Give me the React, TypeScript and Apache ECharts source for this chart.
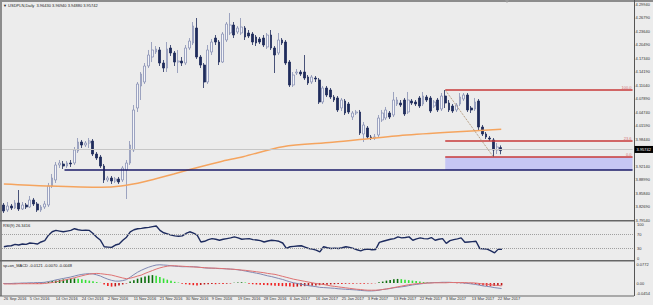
import React, { useEffect, useRef } from "react";
import * as echarts from "echarts";

// ---------- data ----------
const xLabels = [
  "26 Sep 2016", "5 Oct 2016", "14 Oct 2016", "24 Oct 2016", "2 Nov 2016",
  "11 Nov 2016", "21 Nov 2016", "30 Nov 2016", "9 Dec 2016", "19 Dec 2016",
  "28 Dec 2016", "6 Jan 2017", "16 Jan 2017", "25 Jan 2017", "3 Feb 2017",
  "13 Feb 2017", "22 Feb 2017", "3 Mar 2017", "13 Mar 2017", "22 Mar 2017",
];

// [open, close, low, high]
const candles: number[][] = [
  [3.8304, 3.8164, 3.8118, 3.8351], [3.8188, 3.8281, 3.8141, 3.8374], [3.8281, 3.8234, 3.8188, 3.8328], [3.8234, 3.8351, 3.8211, 3.8421], [3.8351, 3.8211, 3.8164, 3.8654],
  [3.8211, 3.8304, 3.8188, 3.8374], [3.8304, 3.8258, 3.8211, 3.8351], [3.8258, 3.8421, 3.8234, 3.8514], [3.8421, 3.8328, 3.8281, 3.8468], [3.8328, 3.8188, 3.8141, 3.8374],
  [3.8188, 3.8258, 3.8141, 3.8304], [3.8258, 3.8328, 3.8211, 3.8398], [3.8304, 3.8748, 3.8258, 3.8818], [3.8748, 3.8934, 3.8701, 3.9028], [3.8888, 3.9238, 3.8818, 3.9307],
  [3.9238, 3.9284, 3.9168, 3.9354], [3.9261, 3.9214, 3.9144, 3.9331], [3.9214, 3.9284, 3.9168, 3.9331], [3.9284, 3.9261, 3.9191, 3.9354], [3.9284, 3.9588, 3.9238, 3.9657],
  [3.9564, 3.9774, 3.9517, 3.9867], [3.9774, 3.9704, 3.9634, 3.9821], [3.9704, 3.9751, 3.9657, 3.9797], [3.9751, 3.9797, 3.9634, 3.9867], [3.9797, 3.9494, 3.9447, 3.9844],
  [3.9494, 3.9401, 3.9354, 3.9541], [3.9424, 3.9214, 3.9168, 3.9471], [3.9214, 3.8888, 3.8818, 3.9261], [3.8888, 3.8934, 3.8841, 3.8981], [3.8934, 3.8864, 3.8794, 3.8981],
  [3.8864, 3.8911, 3.8818, 3.8958], [3.8911, 3.8841, 3.8794, 3.8958], [3.8888, 3.9168, 3.8841, 3.9214], [3.9121, 3.9284, 3.8444, 3.9354], [3.9284, 3.9704, 3.9238, 3.9797],
  [3.9588, 4.0521, 3.9541, 4.0637], [4.0567, 4.1127, 4.0474, 4.1174], [4.1081, 4.1360, 4.0754, 4.1407], [4.1174, 4.1547, 4.1127, 4.1617], [4.1547, 4.1804, 4.1500, 4.1921],
  [4.1757, 4.1921, 4.1640, 4.2107], [4.1874, 4.1944, 4.1827, 4.2014], [4.1921, 4.1617, 4.1547, 4.1990], [4.1617, 4.1500, 4.1407, 4.1687], [4.1500, 4.1944, 4.1407, 4.2107],
  [4.1967, 4.1851, 4.1780, 4.2037], [4.1851, 4.1640, 4.1547, 4.1897], [4.1640, 4.1664, 4.1384, 4.1921], [4.1664, 4.1617, 4.1547, 4.1757], [4.1617, 4.1967, 4.1570, 4.2037],
  [4.1967, 4.2130, 4.1921, 4.2200], [4.2084, 4.2480, 4.2037, 4.2574], [4.2434, 4.1757, 4.1711, 4.2667], [4.1757, 4.1570, 4.1500, 4.1804], [4.1570, 4.1174, 4.1034, 4.1617],
  [4.1174, 4.1921, 4.1127, 4.2037], [4.1874, 4.2107, 4.1804, 4.2177], [4.2200, 4.2107, 4.2037, 4.2270], [4.2107, 4.1640, 4.1570, 4.2154], [4.1640, 4.2294, 4.1617, 4.2340],
  [4.2154, 4.2527, 4.2107, 4.2574], [4.2317, 4.2504, 4.2270, 4.2784], [4.2504, 4.2270, 4.2200, 4.2574], [4.2340, 4.2434, 4.2294, 4.2480], [4.2317, 4.2457, 4.2270, 4.2667],
  [4.2434, 4.2224, 4.2154, 4.2480], [4.2317, 4.2247, 4.2200, 4.2387], [4.2294, 4.2107, 4.2037, 4.2340], [4.2224, 4.2084, 4.2014, 4.2270], [4.2177, 4.2107, 4.2060, 4.2224],
  [4.2200, 4.2037, 4.1990, 4.2270], [4.1990, 4.2270, 4.1944, 4.2317], [4.2270, 4.1967, 4.1921, 4.2387], [4.1967, 4.1804, 4.1384, 4.2014], [4.1851, 4.2154, 4.1804, 4.2317],
  [4.2154, 4.2084, 4.2037, 4.2200], [4.2107, 4.1617, 4.1570, 4.2154], [4.1640, 4.1104, 4.1057, 4.1687], [4.1104, 4.1337, 4.1057, 4.1407], [4.1384, 4.1407, 4.1337, 4.1477],
  [4.1407, 4.1360, 4.1314, 4.1454], [4.1407, 4.1267, 4.1221, 4.1804], [4.1290, 4.1151, 4.1104, 4.1337], [4.1174, 4.1290, 4.1127, 4.1337], [4.1267, 4.1244, 4.1174, 4.1314],
  [4.1221, 4.0707, 4.0661, 4.1267], [4.0707, 4.1034, 4.0661, 4.1081], [4.1034, 4.0871, 4.0824, 4.1081], [4.0987, 4.0824, 4.0777, 4.1034], [4.0824, 4.0754, 4.0707, 4.0871],
  [4.0801, 4.0521, 4.0474, 4.0847], [4.0567, 4.0754, 4.0497, 4.0801], [4.0731, 4.0451, 4.0404, 4.0777], [4.0661, 4.0474, 4.0427, 4.0707], [4.0357, 4.0451, 4.0287, 4.0497],
  [4.0451, 4.0474, 4.0404, 4.0521], [4.0474, 3.9984, 3.9937, 4.0521], [3.9961, 4.0171, 3.9774, 4.0241], [4.0101, 3.9891, 3.9844, 4.0147], [3.9891, 3.9867, 3.9821, 3.9937],
  [3.9867, 3.9891, 3.9821, 3.9961], [3.9937, 4.0334, 3.9891, 4.0404], [4.0287, 4.0451, 4.0241, 4.0521], [4.0334, 4.0521, 4.0287, 4.0591], [4.0451, 4.0357, 4.0311, 4.0497],
  [4.0404, 4.0754, 4.0357, 4.0941], [4.0661, 4.0754, 4.0614, 4.0824], [4.0684, 4.0637, 4.0591, 4.0754], [4.0754, 4.0427, 4.0381, 4.0801], [4.0474, 4.0754, 4.0427, 4.0941],
  [4.0731, 4.0684, 4.0637, 4.0777], [4.0707, 4.0661, 4.0614, 4.0754], [4.0801, 4.0614, 4.0567, 4.0847], [4.0661, 4.0847, 4.0614, 4.0941], [4.0824, 4.0754, 4.0707, 4.0871],
  [4.0801, 4.0497, 4.0451, 4.0847], [4.0614, 4.0707, 4.0567, 4.0754], [4.0754, 4.0521, 4.0474, 4.0801], [4.0544, 4.0847, 4.0497, 4.0917], [4.0847, 4.0684, 4.0567, 4.0987],
  [4.0684, 4.0521, 4.0474, 4.0754], [4.0614, 4.0497, 4.0451, 4.0661], [4.0521, 4.0637, 4.0474, 4.0684], [4.0661, 4.0824, 4.0614, 4.0917], [4.0777, 4.0871, 4.0731, 4.0917],
  [4.0871, 4.0521, 4.0474, 4.0917], [4.0567, 4.0521, 4.0451, 4.0614], [4.0544, 4.0707, 4.0497, 4.0801], [4.0731, 4.0124, 4.0054, 4.0777], [4.0124, 3.9961, 3.9914, 4.0171],
  [3.9961, 3.9891, 3.9844, 4.0007], [3.9867, 3.9844, 3.9797, 3.9914], [3.9821, 3.9588, 3.9424, 3.9867], [3.9588, 3.9657, 3.9494, 3.9751], [3.9643, 3.95742, 3.9488, 3.9694],
];

// moving average read as [bar index, price]
const maPoints: number[][] = [
  [0, 3.8794], [11.5, 3.8748], [26.3, 3.8717], [31.6, 3.8748], [37.8, 3.8848], [45.8, 3.9028],
  [53, 3.9198], [58.4, 3.9315], [64.5, 3.9431], [75.2, 3.9664], [88.6, 3.9767], [106.5, 3.9921],
  [119.9, 4.0001], [134.1, 4.0071],
];

const rsiValues = [
  34, 36, 37, 41, 39, 42, 41, 45, 44, 42,
  48, 52, 68, 78, 82, 80, 78, 80, 82, 87,
  84, 82, 83, 82, 73, 62, 53, 34, 33, 32,
  39, 42, 53, 62, 78, 84, 87, 88, 90, 91,
  93, 95, 82, 75, 72, 68, 66, 65, 66, 73,
  78, 74, 68, 48, 50, 55, 58, 56, 53, 56,
  58, 60, 63, 60, 56, 57, 58, 55, 54, 52,
  48, 51, 53, 52, 50, 45, 29, 34, 35, 36,
  37, 33, 29, 27, 24, 19, 34, 31, 29, 30,
  29, 31, 34, 32, 29, 25, 22, 26, 27, 25,
  26, 47, 50, 53, 56, 58, 63, 60, 61, 63,
  53, 57, 60, 58, 57, 61, 53, 56, 58, 44,
  52, 55, 57, 60, 47, 48, 49, 50, 29, 28,
  27, 22, 16, 27, 26.34,
];

const macdMain = [
  -0.002, -0.002, -0.002, -0.001, -0.001, 0.0, 0.0, 0.001, 0.001, 0.002,
  0.002, 0.003, 0.006, 0.009, 0.013, 0.016, 0.019, 0.022, 0.025, 0.029,
  0.033, 0.036, 0.038, 0.039, 0.038, 0.034, 0.029, 0.022, 0.016, 0.011,
  0.008, 0.008, 0.010, 0.014, 0.024, 0.035, 0.045, 0.053, 0.060, 0.066,
  0.071, 0.075, 0.076, 0.075, 0.074, 0.072, 0.070, 0.069, 0.068, 0.068,
  0.068, 0.068, 0.067, 0.065, 0.063, 0.062, 0.062, 0.061, 0.060, 0.060,
  0.059, 0.058, 0.057, 0.055, 0.053, 0.050, 0.047, 0.044, 0.041, 0.038,
  0.034, 0.030, 0.027, 0.023, 0.019, 0.015, 0.010, 0.005, 0.001, -0.002,
  -0.005, -0.008, -0.011, -0.013, -0.015, -0.018, -0.019, -0.020, -0.021, -0.022,
  -0.024, -0.025, -0.026, -0.027, -0.028, -0.029, -0.031, -0.032, -0.033, -0.033,
  -0.032, -0.030, -0.027, -0.025, -0.023, -0.020, -0.018, -0.016, -0.014, -0.011,
  -0.008, -0.006, -0.004, -0.002, 0.0, 0.001, 0.002, 0.002, 0.003, 0.003,
  0.003, 0.002, 0.002, 0.001, 0.0, -0.002, -0.004, -0.006, -0.009, -0.012,
  -0.014, -0.016, -0.019, -0.021, -0.023,
];

const macdSignal = [
  -0.004, -0.004, -0.004, -0.004, -0.003, -0.003, -0.003, -0.003, -0.003, -0.003,
  -0.003, -0.002, 0.0, 0.002, 0.005, 0.008, 0.011, 0.015, 0.018, 0.022,
  0.026, 0.030, 0.034, 0.037, 0.039, 0.040, 0.039, 0.037, 0.035, 0.033,
  0.029, 0.025, 0.021, 0.018, 0.020, 0.024, 0.029, 0.033, 0.040, 0.046,
  0.052, 0.058, 0.063, 0.067, 0.070, 0.072, 0.072, 0.071, 0.070, 0.069,
  0.068, 0.067, 0.066, 0.065, 0.064, 0.063, 0.062, 0.062, 0.061, 0.060,
  0.059, 0.058, 0.057, 0.056, 0.054, 0.053, 0.051, 0.049, 0.047, 0.045,
  0.043, 0.040, 0.038, 0.036, 0.032, 0.028, 0.024, 0.020, 0.016, 0.013,
  0.010, 0.007, 0.004, 0.001, -0.002, -0.004, -0.006, -0.009, -0.012, -0.014,
  -0.016, -0.018, -0.020, -0.022, -0.024, -0.026, -0.027, -0.029, -0.030, -0.030,
  -0.030, -0.029, -0.027, -0.025, -0.022, -0.019, -0.016, -0.013, -0.010, -0.007,
  -0.005, -0.003, -0.002, -0.001, 0.0, 0.0, 0.001, 0.001, 0.001, 0.001,
  0.002, 0.002, 0.002, 0.002, 0.002, 0.001, 0.001, 0.0, -0.002, -0.004,
  -0.005, -0.007, -0.009, -0.010, -0.012,
];

const macdHist = [
  -0.002, -0.002, -0.003, -0.003, -0.002, -0.003, -0.003, -0.002, -0.003, -0.004,
  -0.003, 0.002, 0.005, 0.008, 0.011, 0.013, 0.015, 0.017, 0.018, 0.019,
  0.018, 0.016, 0.013, 0.010, 0.007, 0.004, 0.001, -0.006, -0.012, -0.015,
  -0.014, -0.010, -0.006, -0.002, 0.006, 0.012, 0.018, 0.023, 0.027, 0.031,
  0.033, 0.030, 0.025, 0.019, 0.014, 0.009, 0.005, 0.002, -0.003, -0.005,
  -0.007, -0.009, -0.010, -0.008, -0.006, -0.005, -0.004, -0.005, -0.003, -0.004,
  -0.003, -0.002, 0.001, 0.002, 0.003, 0.002, -0.003, -0.005, -0.006, -0.007,
  -0.008, -0.009, -0.010, -0.011, -0.012, -0.013, -0.014, -0.015, -0.016, -0.015,
  -0.014, -0.013, -0.012, -0.011, -0.010, -0.009, -0.008, -0.007, -0.006, -0.005,
  -0.004, -0.004, -0.003, -0.003, -0.003, -0.002, -0.003, -0.003, -0.002, -0.002,
  -0.001, 0.003, 0.006, 0.010, 0.013, 0.016, 0.017, 0.016, 0.014, 0.012,
  0.010, 0.008, 0.006, 0.004, 0.003, 0.002, 0.001, 0.002, 0.002, 0.002,
  0.001, 0.0, -0.001, -0.001, -0.002, -0.002, -0.003, -0.005, -0.008, -0.010,
  -0.012, -0.014, -0.012, -0.011, -0.010,
];

const priceTicks = [
  "3.79540", "3.82690", "3.85840", "3.88990", "3.92140", "3.95290", "3.98440", "4.01590", "4.04740",
  "4.07890", "4.11040", "4.14190", "4.17340", "4.20490", "4.23640", "4.26790", "4.29940",
];
const priceTickBase = 3.7954;
const priceTickStep = 0.0315;
const rsiTicks = [0, 30, 70, 100];
const rsiLevels = [70, 30];
const macdTicks = [-0.0454, 0, 0.0772];
const macdTickLabels = ["-0.0454", "0.00", "0.0772"];

const fibLevels = [
  { name: "100.0", price: 4.0987 },
  { name: "23.6", price: 3.9793 },
  { name: "0.0", price: 3.9424 },
];
const fibStartIndex = 119;
const fibLowIndex = 132;
const supportPrice = 3.9121;
const supportStartIndex = 16.35;
const lastPrice = 3.95742;

const titleText = "\u25BC USDPLN,Daily  3.96430 3.96940 3.94880 3.95742";
const rsiTitle = "RSI(9) 26.3416";
const macdTitle = "sp+on_MACD -0.0121 -0.0070 -0.0048";

// ---------- layout ----------
const SLOTS = 170;
const LABEL_STEP = 7;
const PLOT_LEFT = 2;
const PLOT_RIGHT = 634;
const PLOT_W = PLOT_RIGHT - PLOT_LEFT;
const FONT = '"Liberation Sans", "DejaVu Sans", sans-serif';

export default function App() {
  const ref = useRef<HTMLDivElement>(null);

  useEffect(() => {
    if (!ref.current) return;
    const chart = echarts.init(ref.current, undefined, { renderer: "svg" });

    const cats = Array.from({ length: SLOTS }, (_, i) =>
      i % LABEL_STEP === 0 && i / LABEL_STEP < xLabels.length ? xLabels[i / LABEL_STEP] : ""
    );
    const xMax = SLOTS - 0.5;
    const priceMin = priceTickBase;
    const priceMax = 4.30407;
    const kMax = (priceMax - priceTickBase) / priceTickStep;

    const histData = macdHist.map((v, i) => {
      const prev = i > 0 ? macdHist[i - 1] : v;
      let c: string;
      if (v >= 0) c = v >= prev ? "#0c6e0c" : "#35e035";
      else c = v <= prev ? "#f02020" : "#c01a1a";
      return { value: v, itemStyle: { color: c } };
    });

    const fibLines = fibLevels.map((f) => [
      {
        coord: [fibStartIndex, f.price],
        lineStyle: { color: "#c83a3a", width: 1.5, type: "solid" },
        label: {
          show: true,
          position: "insideEndTop",
          formatter: f.name,
          fontSize: 4,
          color: "#d47070",
          fontFamily: FONT,
          distance: 1,
        },
      },
      { coord: [xMax, f.price] },
    ]);

    const option: any = {
      animation: false,
      backgroundColor: "#ececec",
      textStyle: { fontFamily: FONT },
      grid: [
        { left: PLOT_LEFT, top: 2, width: PLOT_W, height: 218 },
        { left: PLOT_LEFT, top: 220.9, width: PLOT_W, height: 40.8 },
        { left: PLOT_LEFT, top: 264.5, width: PLOT_W, height: 29.4 },
      ],
      xAxis: [
        { type: "category", gridIndex: 0, data: cats, show: false },
        { type: "value", gridIndex: 0, min: -0.5, max: xMax, show: false },
        { type: "category", gridIndex: 1, data: cats, show: false },
        {
          type: "category",
          gridIndex: 2,
          data: cats,
          axisLine: { show: false },
          axisTick: { show: false },
          splitLine: { show: false },
          axisLabel: {
            interval: 0,
            fontSize: 4,
            color: "#333",
            align: "left",
            margin: 3,
            fontFamily: FONT,
          },
        },
      ],
      yAxis: [
        { type: "value", gridIndex: 0, min: priceMin, max: priceMax, show: false },
        {
          type: "value",
          gridIndex: 0,
          position: "right",
          min: 0,
          max: kMax,
          interval: 1,
          splitLine: { show: false },
          axisLine: { show: false },
          axisTick: { show: false },
          axisLabel: {
            fontSize: 4,
            color: "#333",
            margin: 3,
            fontFamily: FONT,
            formatter: (v: number) => {
              const k = Math.round(v);
              if (Math.abs(v - k) > 1e-6) return "";
              // the current-price tag covers the tick label next to it
              if (Math.abs(priceTickBase + k * priceTickStep - lastPrice) < 0.01) return "";
              return priceTicks[k] ?? "";
            },
          },
        },
        {
          type: "value",
          gridIndex: 1,
          position: "right",
          min: -10,
          max: 110,
          interval: 10,
          splitLine: { show: false },
          axisLine: { show: false },
          axisTick: { show: false },
          axisLabel: {
            fontSize: 4,
            color: "#333",
            margin: 3,
            fontFamily: FONT,
            formatter: (v: number) => (rsiTicks.includes(Math.round(v)) && Math.abs(v - Math.round(v)) < 1e-6 ? String(Math.round(v)) : ""),
          },
        },
        { type: "value", gridIndex: 2, min: macdTicks[0], max: macdTicks[2], show: false },
        {
          type: "value",
          gridIndex: 2,
          position: "right",
          min: Math.round(macdTicks[0] * 10000),
          max: Math.round(macdTicks[2] * 10000),
          interval: 2,
          splitLine: { show: false },
          axisLine: { show: false },
          axisTick: { show: false },
          axisLabel: {
            fontSize: 4,
            color: "#333",
            margin: 3,
            fontFamily: FONT,
            formatter: (v: number) => {
              const r = Math.round(v);
              const idx = macdTicks.findIndex((t) => Math.round(t * 10000) === r);
              return idx >= 0 ? macdTickLabels[idx] : "";
            },
          },
        },
      ],
      series: [
        {
          type: "line",
          xAxisIndex: 1,
          yAxisIndex: 0,
          z: 1,
          data: [[0, lastPrice]],
          symbol: "none",
          lineStyle: { width: 0 },
          markLine: {
            silent: true,
            symbol: ["none", "none"],
            lineStyle: { color: "#c6c6c6", width: 1, type: "solid" },
            label: {
              show: true,
              position: "end",
              formatter: lastPrice.toFixed(5),
              backgroundColor: "#000",
              color: "#fff",
              fontSize: 4,
              fontFamily: FONT,
              padding: [1.5, 2],
              distance: 2,
            },
            data: [{ yAxis: lastPrice }],
          },
        },
        {
          type: "line",
          xAxisIndex: 1,
          yAxisIndex: 0,
          z: 1,
          data: [[fibStartIndex, fibLevels[0].price]],
          symbol: "none",
          lineStyle: { width: 0 },
          markArea: {
            silent: true,
            itemStyle: { color: "#c6c6f4" },
            data: [[{ coord: [fibStartIndex, fibLevels[2].price] }, { coord: [xMax, supportPrice] }]],
          },
          markLine: {
            silent: true,
            symbol: ["none", "none"],
            label: { show: false },
            data: [
              [
                { coord: [supportStartIndex, supportPrice], lineStyle: { color: "#1b1b68", width: 1.5, type: "solid" } },
                { coord: [xMax, supportPrice] },
              ],
              ...fibLines,
              [
                { coord: [fibStartIndex, fibLevels[0].price], lineStyle: { color: "#a88a68", width: 1, type: "dotted" } },
                { coord: [fibLowIndex, fibLevels[2].price] },
              ],
            ],
          },
        },
        {
          type: "candlestick",
          xAxisIndex: 0,
          yAxisIndex: 0,
          data: candles,
          barWidth: "62%",
          z: 2,
          itemStyle: {
            color: "#f3f4f8",
            color0: "#1f2c5c",
            borderColor: "#8890b4",
            borderColor0: "#1f2c5c",
            borderWidth: 0.8,
          },
        },
        {
          type: "line",
          xAxisIndex: 1,
          yAxisIndex: 0,
          z: 3,
          data: maPoints,
          smooth: 0.3,
          showSymbol: false,
          symbol: "none",
          lineStyle: { color: "#f5a45e", width: 1.5 },
        },
        {
          type: "line",
          xAxisIndex: 2,
          yAxisIndex: 2,
          data: rsiValues,
          showSymbol: false,
          symbol: "none",
          lineStyle: { color: "#1d2b5e", width: 1.4 },
          markLine: {
            silent: true,
            symbol: ["none", "none"],
            label: { show: false },
            lineStyle: { color: "#a0a0a0", width: 1, type: "dotted" },
            data: rsiLevels.map((v) => ({ yAxis: v })),
          },
        },
        {
          type: "bar",
          xAxisIndex: 3,
          yAxisIndex: 3,
          data: histData,
          barWidth: 1.6,
        },
        {
          type: "line",
          xAxisIndex: 3,
          yAxisIndex: 3,
          data: macdMain,
          showSymbol: false,
          symbol: "none",
          lineStyle: { color: "#8088b2", width: 1 },
        },
        {
          type: "line",
          xAxisIndex: 3,
          yAxisIndex: 3,
          data: macdSignal,
          showSymbol: false,
          symbol: "none",
          lineStyle: { color: "#de7272", width: 1 },
        },
      ],
      graphic: [
        { type: "rect", shape: { x: 0, y: 0, width: 653, height: 2 }, style: { fill: "#8c8c8c" } },
        { type: "rect", shape: { x: 0, y: 0, width: 2, height: 296 }, style: { fill: "#8c8c8c" } },
        { type: "rect", shape: { x: 0, y: 220, width: PLOT_RIGHT, height: 1.5 }, style: { fill: "#666" } },
        { type: "rect", shape: { x: 0, y: 260, width: PLOT_RIGHT, height: 1.5 }, style: { fill: "#666" } },
        { type: "line", shape: { x1: 0, y1: 296, x2: PLOT_RIGHT, y2: 296 }, style: { stroke: "#666", lineWidth: 1 } },
        { type: "line", shape: { x1: PLOT_RIGHT + 0.5, y1: 0, x2: PLOT_RIGHT + 0.5, y2: 296 }, style: { stroke: "#555", lineWidth: 1 } },
        { type: "polygon", shape: { points: [[505, 0], [509, 0], [507, 3]] }, style: { fill: "#999" } },
        {
          type: "text",
          x: 3,
          y: 5,
          style: { text: titleText, fontSize: 4, fontFamily: FONT, fill: "#222", verticalAlign: "middle" },
        },
        {
          type: "text",
          x: 3,
          y: 225,
          style: { text: rsiTitle, fontSize: 4, fontFamily: FONT, fill: "#222", verticalAlign: "middle" },
        },
        {
          type: "text",
          x: 3,
          y: 265,
          style: { text: macdTitle, fontSize: 4, fontFamily: FONT, fill: "#222", verticalAlign: "middle" },
        },
      ],
    };

    chart.setOption(option);
    return () => chart.dispose();
  }, []);

  return (
    <div
      ref={ref}
      style={{ position: "fixed", left: 0, top: 0, width: 653, height: 305, background: "#ececec" }}
    />
  );
}
